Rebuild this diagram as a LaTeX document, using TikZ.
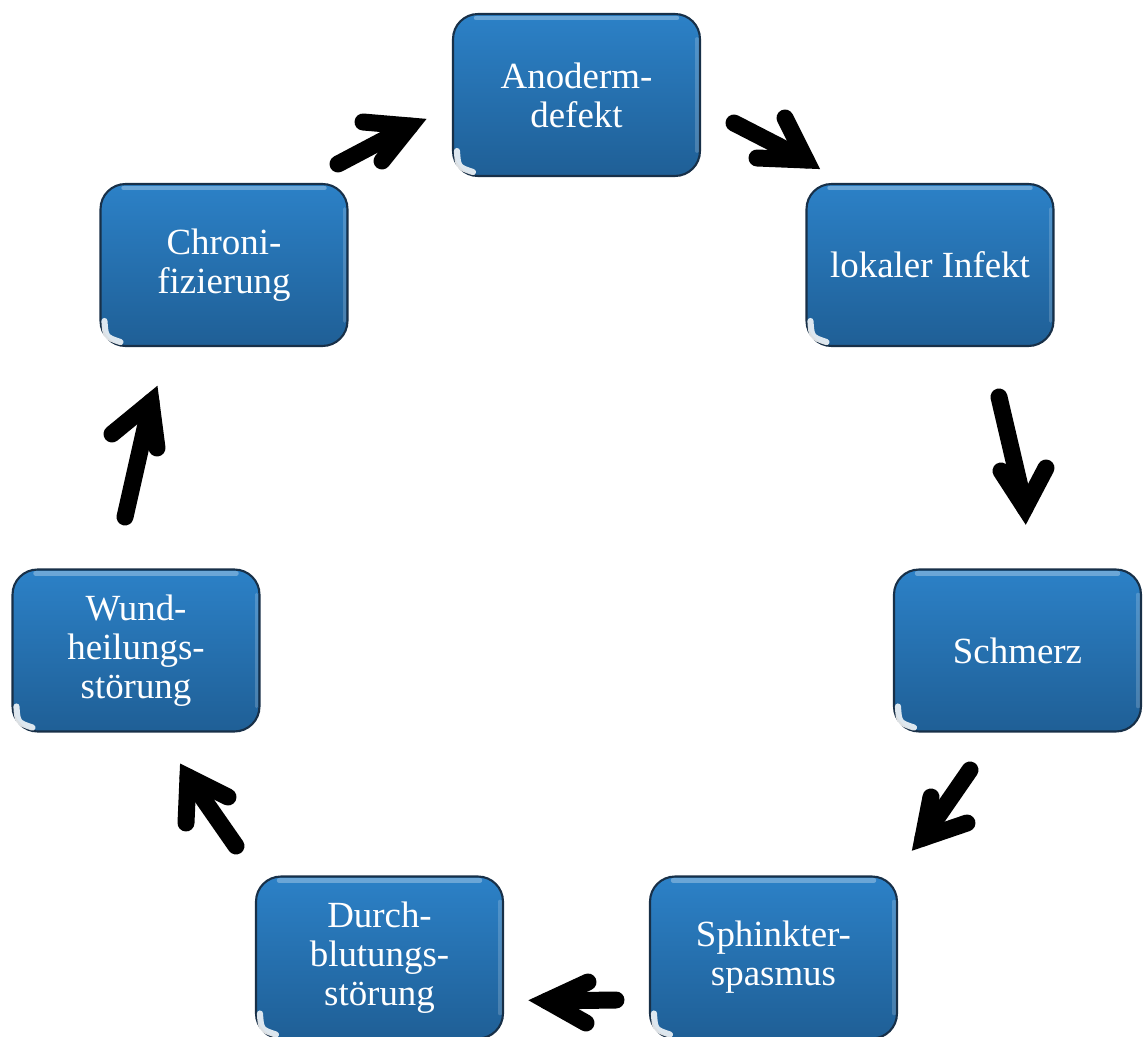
\documentclass[tikz,border=0pt]{standalone}
\usepackage{fontspec}
\setmainfont{Liberation Serif}
\usetikzlibrary{calc}
\definecolor{boxtop}{RGB}{44,129,199}
\definecolor{boxbot}{RGB}{31,95,150}
\definecolor{boxedge}{RGB}{24,48,72}
\tikzset{
 box/.style={rectangle, rounded corners=0.5cm, draw=boxedge, line width=1.2pt,
   top color=boxtop, bottom color=boxbot, minimum width=4.94cm, minimum height=3.24cm,
   inner sep=0pt, align=center, text=white, font=\fontsize{21}{22.2}\selectfont},
 shaft/.style={line width=0.34cm, line cap=round, black},
 head/.style={line width=0.34cm, line cap=round, line join=miter, black},
 gloss/.style={white, opacity=0.3, line width=2.5pt, line cap=round},
 sidegloss/.style={white, opacity=0.18, line width=2pt, line cap=round},
 spot/.style={white, opacity=0.85, line width=3.5pt, line cap=round}
}
\begin{document}
\begin{tikzpicture}[x=0.02cm,y=-0.02cm]
\useasboundingbox (0,0) rectangle (1144,1037);
% boxes
\node[box] (anod) at (576.5,95) {Anoderm-\\defekt};
\node[box] (infk) at (930,265) {lokaler Infekt};
\node[box] (schm) at (1017.5,650.5) {Schmerz};
\node[box] (sphk) at (773.5,957.5) {Sphinkter-\\spasmus};
\node[box] (durc) at (379.5,957.5) {Durch-\\blutungs-\\störung};
\node[box] (wund) at (136,650.5) {Wund-\\heilungs-\\störung};
\node[box] (chro) at (224,265) {Chroni-\\fizierung};
% gloss highlights
\foreach \n in {anod,infk,schm,sphk,durc,wund,chro}{
  \draw[gloss] ($(\n.north west)+(24,5)$) -- ($(\n.north east)+(-24,5)$);
  \draw[sidegloss] ($(\n.north east)+(-4,26)$) -- ($(\n.south east)+(-4,-26)$);
  \draw[spot] ($(\n.south west)+(5,-26)$) .. controls ($(\n.south west)+(6,-10)$) .. ($(\n.south west)+(21,-5)$);
}
% arrow coordinates
\coordinate (a1s) at (734,123); \coordinate (a1v) at (806,160);
\coordinate (a1h) at (785,118); \coordinate (a1k) at (757,158);
\coordinate (a2s) at (999,397); \coordinate (a2v) at (1025,508);
\coordinate (a2h) at (1001,471); \coordinate (a2k) at (1046,468);
\coordinate (a3s) at (970,770); \coordinate (a3v) at (923,838);
\coordinate (a3h) at (931,797); \coordinate (a3k) at (967,823);
\coordinate (a4s) at (616,1000); \coordinate (a4v) at (547,1001);
\coordinate (a4h) at (588,982); \coordinate (a4k) at (586,1023);
\coordinate (a5s) at (236,846); \coordinate (a5v) at (188,777);
\coordinate (a5h) at (186,823); \coordinate (a5k) at (228,797);
\coordinate (a6s) at (125,517); \coordinate (a6v) at (151,402);
\coordinate (a6h) at (112,434); \coordinate (a6k) at (157,448);
\coordinate (a7s) at (338,164); \coordinate (a7v) at (410,126);
\coordinate (a7h) at (363,122); \coordinate (a7k) at (382,161);
% arrows
\foreach \a in {a1,a2,a3,a4,a5,a6,a7}{
  \draw[shaft] (\a s) -- (\a v);
  \draw[head] (\a h) -- (\a v) -- (\a k);
}
\end{tikzpicture}
\end{document}
